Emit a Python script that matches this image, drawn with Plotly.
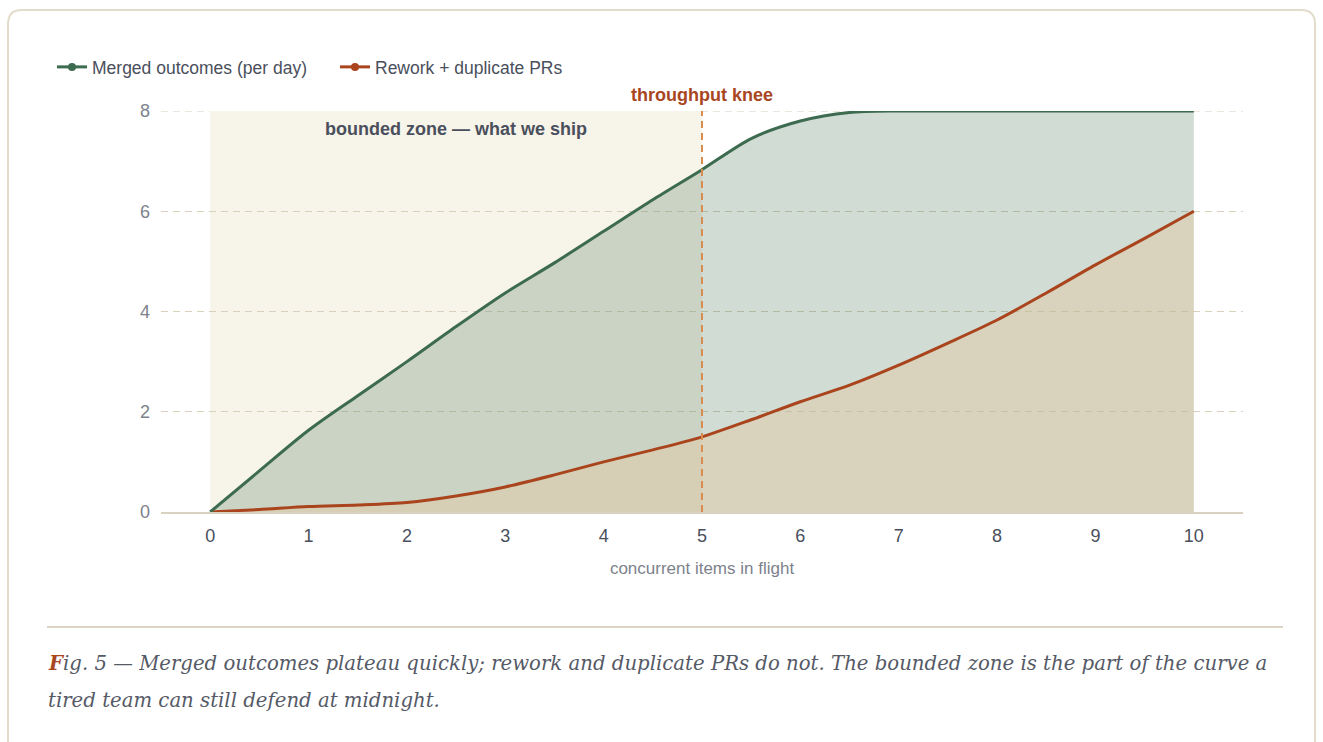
import plotly.graph_objects as go

# ---- data ----
items = [0, 0.5, 1, 1.5, 2, 2.5, 3, 3.5, 4, 4.5, 5, 5.5, 6, 6.5, 7, 7.5, 8, 8.5, 9, 9.5, 10]
merged = [0, 0.82, 1.63, 2.32, 3.0, 3.70, 4.37, 4.97, 5.60, 6.23, 6.83, 7.45, 7.80, 7.97, 8.0, 8.0, 8.0, 8.0, 8.0, 8.0, 8.0]
rework = [0, 0.05, 0.11, 0.14, 0.19, 0.32, 0.50, 0.74, 1.0, 1.24, 1.50, 1.84, 2.20, 2.53, 2.93, 3.37, 3.83, 4.37, 4.93, 5.46, 6.0]
x_ticks = [0, 1, 2, 3, 4, 5, 6, 7, 8, 9, 10]
y_ticks = [0, 2, 4, 6, 8]
knee_x = 5
zone_range = [0, 5]

GREEN = "#3d6b4f"
RED = "#a9441c"
KNEE = "#d98c4f"
TEXT = "#4a4f5c"
MUTED = "#7d828c"
GRID = "#d9d1bd"
FONT = "Liberation Sans, Arial, sans-serif"
SERIF = "DejaVu Serif, Liberation Serif, serif"

W, H = 1323, 742
L, R, T, B = 161, 80, 111, 230
pw, ph = W - L - R, H - T - B

def px(x):
    return (x - L) / pw

def py(y):
    return (H - B - y) / ph

fig = go.Figure()

fig.add_trace(go.Scatter(
    x=items, y=rework, mode="lines", line=dict(color=RED, width=3, shape="spline", smoothing=0.8),
    fill="tozeroy", fillcolor="rgba(192,180,145,0.6)", showlegend=False, hoverinfo="skip"))
fig.add_trace(go.Scatter(
    x=items, y=merged, mode="lines", line=dict(color=GREEN, width=3, shape="spline", smoothing=0.8),
    fill="tonexty", fillcolor="rgba(61,110,80,0.24)", showlegend=False, hoverinfo="skip"))

# legend entries
fig.add_trace(go.Scatter(x=[None], y=[None], mode="lines+markers", name="Merged outcomes (per day)",
                         line=dict(color=GREEN, width=3), marker=dict(color=GREEN, size=8)))
fig.add_trace(go.Scatter(x=[None], y=[None], mode="lines+markers", name="Rework + duplicate PRs",
                         line=dict(color=RED, width=3), marker=dict(color=RED, size=8)))

shapes = []
# card
x0, y0, x1, y1, r = 8, 10, 1315, 770, 14
path = (f"M {px(x0+r)},{py(y0)} L {px(x1-r)},{py(y0)} Q {px(x1)},{py(y0)} {px(x1)},{py(y0+r)} "
        f"L {px(x1)},{py(y1)} L {px(x0)},{py(y1)} L {px(x0)},{py(y0+r)} Q {px(x0)},{py(y0)} {px(x0+r)},{py(y0)} Z")
shapes.append(dict(type="path", xref="paper", yref="paper", path=path,
                   line=dict(color="#e3dccb", width=2), fillcolor="rgba(0,0,0,0)", layer="below"))
# bounded zone
shapes.append(dict(type="rect", xref="x", yref="y", x0=zone_range[0], x1=zone_range[1], y0=0, y1=8,
                   fillcolor="#f7f4ea", line=dict(width=0), layer="below"))
# top gridline
shapes.append(dict(type="line", xref="paper", yref="y", x0=0, x1=1, y0=8, y1=8,
                   line=dict(color=GRID, width=1.2, dash="7px,5px"), layer="below"))
# knee line
shapes.append(dict(type="line", xref="x", yref="y", x0=knee_x, x1=knee_x, y0=0, y1=8,
                   line=dict(color=KNEE, width=2, dash="7px,5px"), layer="above"))
# separator
shapes.append(dict(type="line", xref="paper", yref="paper", x0=px(47), x1=px(1283), y0=py(627), y1=py(627),
                   line=dict(color="#dcd5c6", width=2)))

annotations = [
    dict(x=knee_x, y=8, xref="x", yref="y", yshift=16, text="<b>throughput knee</b>", showarrow=False,
         font=dict(family=FONT, size=18, color="#a8461f"), yanchor="middle"),
    dict(x=sum(zone_range) / 2, y=8, xref="x", yref="y", yshift=-18, text="<b>bounded zone — what we ship</b>",
         showarrow=False, font=dict(family=FONT, size=18, color=TEXT), yanchor="middle"),
    dict(x=px(46), y=py(663), xref="paper", yref="paper", xanchor="left", yanchor="middle", align="left",
         showarrow=False,
         text="<span style='color:#a8461f'><b>F</b></span>ig. 5 — Merged outcomes plateau quickly; rework and duplicate PRs do not. The bounded zone is the part of the curve a",
         font=dict(family=SERIF, size=19.7, color="#555a66", style="italic")),
    dict(x=px(46), y=py(700), xref="paper", yref="paper", xanchor="left", yanchor="middle", align="left",
         showarrow=False, text="tired team can still defend at midnight.",
         font=dict(family=SERIF, size=19.7, color="#555a66", style="italic")),
]

fig.update_layout(
    width=W, height=H,
    margin=dict(l=L, r=R, t=T, b=B),
    paper_bgcolor="white", plot_bgcolor="white",
    font=dict(family=FONT, color=TEXT),
    shapes=shapes, annotations=annotations,
    showlegend=True,
    legend=dict(orientation="h", traceorder="normal", x=px(52), y=py(67), xanchor="left", yanchor="middle",
                font=dict(family=FONT, size=17.5, color=TEXT), bgcolor="rgba(0,0,0,0)",
                itemwidth=30, entrywidth=238, entrywidthmode="pixels"),
    xaxis=dict(range=[-0.5, 10.5], tickvals=x_ticks, ticktext=[str(v) for v in x_ticks],
               showgrid=False, zeroline=False, showline=True, linecolor="#d9d2c0", linewidth=2,
               ticks="", ticklabelstandoff=6, tickfont=dict(family=FONT, size=18, color=TEXT),
               title=dict(text="concurrent items in flight", font=dict(family=FONT, size=17, color=MUTED), standoff=18)),
    yaxis=dict(range=[0, 8], tickvals=y_ticks, ticktext=[str(v) for v in y_ticks],
               showgrid=True, gridcolor=GRID, griddash="7px,5px", gridwidth=1.2, zeroline=False,
               showline=False, ticks="", ticklabelstandoff=10,
               tickfont=dict(family=FONT, size=18, color=MUTED)),
)

fig.write_html("out.html", config={"displayModeBar": False},
               post_script="document.body.style.margin='0';document.body.style.overflow='hidden';")
